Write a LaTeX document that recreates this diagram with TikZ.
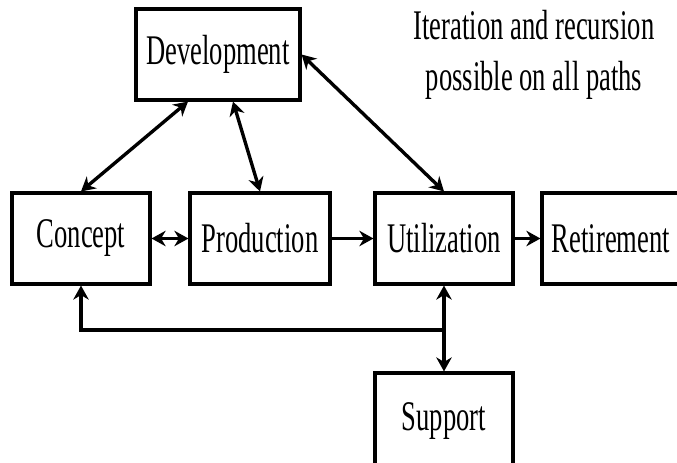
\documentclass[tikz,border=0pt]{standalone}
\usepackage{fontspec}
\setmainfont{Liberation Serif}[FakeStretch=0.63]
\usepackage{tikz}
\usetikzlibrary{arrows.meta,calc}

\begin{document}
\begin{tikzpicture}[x=0.025cm, y=-0.025cm,
  box/.style={draw, line width=2.2pt, minimum width=3.45cm, minimum height=2.275cm, inner sep=0pt, font=\fontsize{30}{36}\selectfont},
  link/.style={line width=2.4pt, -{Stealth[length=10pt,width=11pt]}},
  link2/.style={line width=2.4pt, {Stealth[length=10pt,width=11pt]}-{Stealth[length=10pt,width=11pt]}}]
\useasboundingbox (0,0) rectangle (677,462);

% Boxes
\node[box, minimum width=4.1cm] (dev) at (218,54.5) {Development};
\node[box] (concept) at (81,238.5) {Concept};
\node[box, minimum width=3.5cm] (production) at (260,238.5) {Production};
\node[box] (utilization) at (444,238.5) {Utilization};
\node[box, minimum width=3.85cm] (retirement) at (619,238.5) {\hspace*{-0.4cm}Retirement};
\node[box, minimum height=2.4cm] (support) at (444,421) {Support};

% Note
\node[align=center, font=\fontsize{30}{36}\selectfont] (note) at (534,55) {Iteration and recursion\\possible on all paths};

% Paths to and from development
\draw[link2] ($(dev.south)+(-30,0)$) -- (concept.north);
\draw[link2] ($(dev.south)+(15,0)$) -- (production.north);
\draw[link2] (dev.east) -- (utilization.north);

% Main line
\draw[link2] (concept) -- (production);
\draw[link] (production) -- (utilization);
\draw[link] (utilization) -- (retirement);

% Support loop
\coordinate (junction) at (444,330);
\draw[line width=2.4pt, {Stealth[length=10pt,width=11pt]}-] (concept.south) |- (junction);
\draw[link] (junction) -- (utilization.south);
\draw[link] (junction) -- (support.north);

\end{tikzpicture}
\end{document}
